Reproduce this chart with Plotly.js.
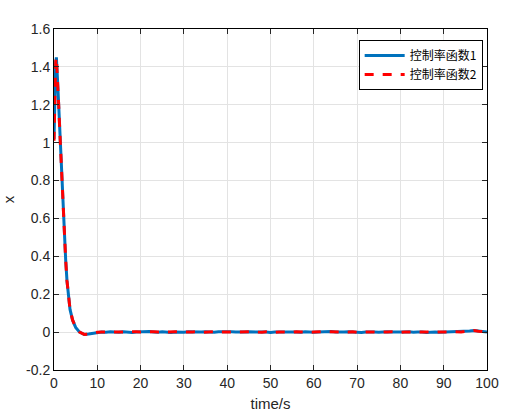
<!DOCTYPE html>
<html>
<head>
<meta charset="utf-8">
<script src="https://cdn.plot.ly/plotly-3.0.1.min.js"></script>
<style>html,body{margin:0;padding:0;background:#fff;}#chart{width:528px;height:420px;}</style>
</head>
<body>
<div id="chart"></div>
<script>
const time = [0,0.2,0.4,0.55,0.7,0.9,1.1,1.3,1.45,1.7,1.9,2.1,2.3,2.5,2.7,3.0,3.3,3.7,4.3,5.0,5.9,7,8,9,
  10,11,12,13,14,15,16,17,18,19,20,21,22,23,24,25,26,27,28,29,30,31,32,33,34,35,36,37,38,39,40,
  41,42,43,44,45,46,47,48,49,50,51,52,53,54,55,56,57,58,59,60,61,62,63,64,65,66,67,68,69,70,
  71,72,73,74,75,76,77,78,79,80,81,82,83,84,85,86,87,88,89,90,91,92,93,94,95,96,97,98,99,100];
const rate1 = [1.02,1.25,1.42,1.45,1.40,1.29,1.19,1.08,1.0,0.89,0.80,0.69,0.58,0.48,0.38,0.27,0.19,0.12,0.063,0.025,0.0,-0.013,-0.01,-0.005,
  -0.002,0.001,-0.001,0.002,0.0,-0.001,0.002,0.001,-0.002,0.001,0.002,0.0,0.003,0.001,-0.001,0.002,0.0,-0.002,0.001,0.0,-0.001,0.002,0.001,-0.001,0.0,0.002,0.001,-0.001,0.002,0.003,0.004,
  0.002,0.001,-0.001,0.0,0.002,0.001,-0.001,0.0,0.001,-0.002,0.001,0.0,0.002,-0.001,0.0,0.001,-0.001,0.002,0.0,-0.001,0.001,0.002,0.004,0.003,0.001,-0.001,0.0,0.002,0.001,0.0,
  -0.002,0.001,0.002,0.0,-0.001,0.001,0.002,0.0,-0.001,0.001,0.0,0.002,-0.001,0.0,0.001,-0.002,0.0,0.001,-0.001,0.0,-0.002,0.001,0.0,0.002,0.003,0.006,0.009,0.006,0.002,0.0];
const rate2 = [1.01,1.26,1.43,1.45,1.39,1.29,1.19,1.08,1.0,0.89,0.80,0.69,0.58,0.48,0.38,0.27,0.19,0.12,0.063,0.025,0.0,-0.012,-0.01,-0.004,
  -0.001,0.0,0.001,-0.001,0.001,0.0,0.001,-0.001,0.0,0.002,0.0,0.001,-0.001,0.002,0.0,0.001,-0.001,0.0,0.002,0.001,-0.001,0.0,0.001,0.002,-0.001,0.001,0.0,0.002,0.001,0.002,0.003,
  0.001,0.0,0.001,-0.001,0.001,0.002,0.0,-0.001,0.002,0.0,-0.001,0.001,0.0,0.001,-0.001,0.002,0.0,0.001,-0.001,0.0,0.002,0.001,0.003,0.002,0.0,0.001,-0.001,0.0,0.002,-0.001,
  0.0,0.002,0.0,0.001,0.0,-0.001,0.001,0.002,0.0,-0.001,0.001,0.0,0.001,-0.001,0.0,0.001,-0.001,0.0,0.001,-0.001,0.0,0.002,0.0,0.001,0.004,0.007,0.009,0.005,0.003,0.001];
const names = ['控制率函数1','控制率函数2'];
const xTicks = [0,10,20,30,40,50,60,70,80,90,100];
const yTicks = [-0.2,0,0.2,0.4,0.6,0.8,1,1.2,1.4,1.6];
const yTickText = ['-0.2','0','0.2','0.4','0.6','0.8','1','1.2','1.4','1.6'];

const traces = [
  {x: time, y: rate1, name: names[0], type: 'scatter', mode: 'lines',
   line: {color: '#0072BD', width: 3}},
  {x: time, y: rate2, name: names[1], type: 'scatter', mode: 'lines',
   line: {color: '#FF0000', width: 3, dash: 'dash'}}
];
const axisCommon = {
  showline: true, mirror: 'ticks', linecolor: '#000', linewidth: 1,
  ticks: 'inside', ticklen: 5, tickcolor: '#262626',
  showgrid: true, gridcolor: '#e3e3e3', gridwidth: 1, zeroline: false,
  tickfont: {family: 'Liberation Sans, Arial, sans-serif', size: 14, color: '#262626'}
};
const layout = {
  width: 528, height: 420,
  paper_bgcolor: '#fff', plot_bgcolor: '#fff',
  margin: {l: 54, r: 41, t: 29, b: 50},
  showlegend: true,
  legend: {x: 0.99, xanchor: 'right', y: 0.968, yanchor: 'top',
    bgcolor: '#fff', bordercolor: '#000', borderwidth: 1,
    itemwidth: 40,
    font: {family: 'Noto Sans CJK SC, sans-serif', size: 12, color: '#000'},
    tracegroupgap: 0},
  xaxis: Object.assign({}, axisCommon, {
    range: [0, 100], tickvals: xTicks,
    title: {text: 'time/s', font: {family: 'Liberation Sans, Arial, sans-serif', size: 15, color: '#262626'}, standoff: 8}
  }),
  yaxis: Object.assign({}, axisCommon, {
    range: [-0.2, 1.6], tickvals: yTicks, ticktext: yTickText,
    title: {text: 'x', font: {family: 'Liberation Sans, Arial, sans-serif', size: 15, color: '#262626'}, standoff: 14}
  })
};
Plotly.newPlot('chart', traces, layout, {displayModeBar: false, staticPlot: true});
</script>
</body>
</html>
